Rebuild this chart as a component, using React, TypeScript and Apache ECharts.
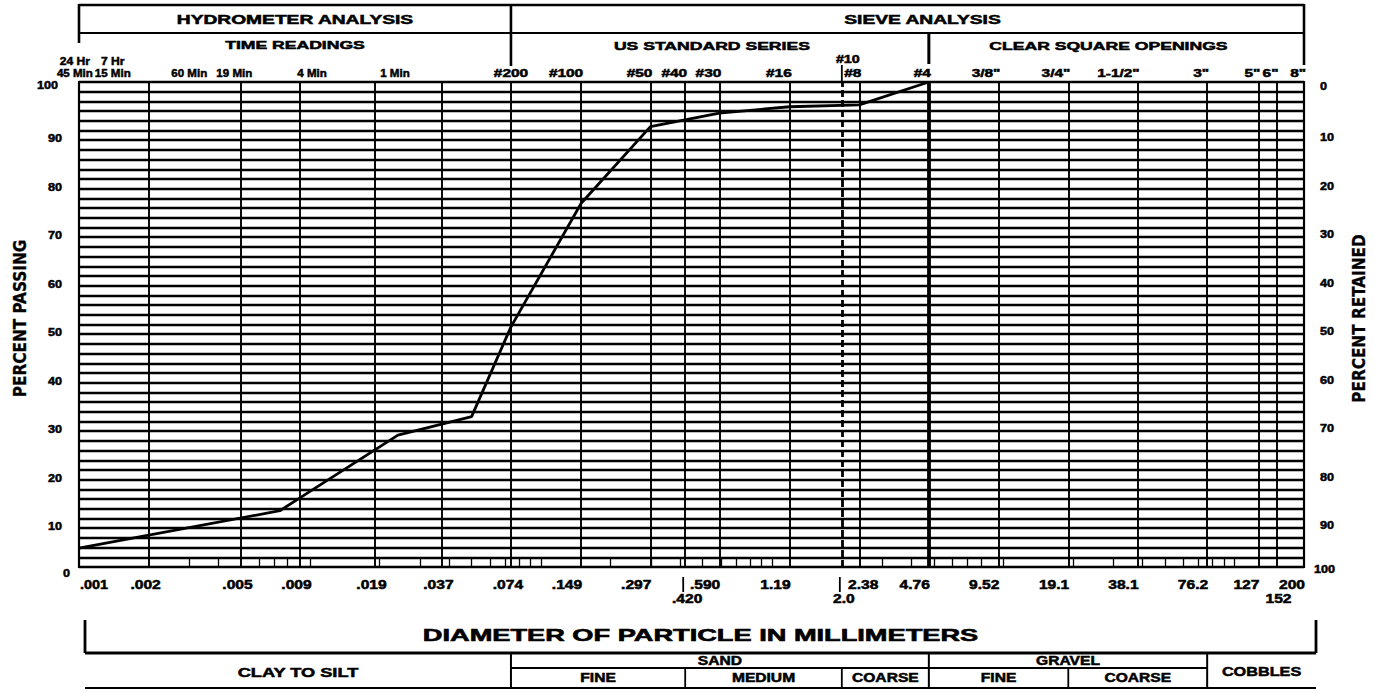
import React, { useEffect, useRef } from "react";
import * as echarts from "echarts";

// ---- gradation curve (diameter mm, percent passing) ----
const curveSizes = [0.001, 0.0074, 0.009, 0.024, 0.05, 0.074, 0.149, 0.297, 0.59, 1.19, 2.38, 4.76];
const curvePassing = [3.9, 11.6, 14.2, 27.2, 31.0, 49.5, 75.0, 90.8, 93.6, 94.9, 95.3, 100];

// ---- vertical grid lines (mm) ----
const gridSizes = [0.002, 0.005, 0.009, 0.019, 0.037, 0.074, 0.149, 0.297, 0.42, 0.59, 1.19, 2.0, 2.38, 4.76, 9.52, 19.1, 38.1, 76.2, 127, 152];
const minorTickSizes = [0.003, 0.004, 0.006, 0.007, 0.008, 0.01, 0.02, 0.03, 0.04, 0.05, 0.06, 0.07, 0.08, 0.09, 0.1, 0.2, 0.3, 0.4, 0.5, 0.6, 0.7, 0.8, 0.9, 1, 3, 4, 5, 6, 7, 8, 10, 20, 30, 40, 50, 60, 70, 80, 90, 100];

// ---- bottom tick labels (mm) ----
const mmLabelSizes = [0.001, 0.002, 0.005, 0.009, 0.019, 0.037, 0.074, 0.149, 0.297, 0.59, 1.19, 2.38, 4.76, 9.52, 19.1, 38.1, 76.2, 127, 200];
const mmLabels = [".001", ".002", ".005", ".009", ".019", ".037", ".074", ".149", ".297", ".590", "1.19", "2.38", "4.76", "9.52", "19.1", "38.1", "76.2", "127", "200"];
const mmLabel2Sizes = [0.42, 2.0, 152];
const mmLabels2 = [".420", "2.0", "152"];
const markSizes = [0.42, 2.0];

// ---- top tick labels ----
const sieveSizes = [0.074, 0.149, 0.297, 0.42, 0.59, 1.19, 2.38, 4.76, 9.52, 19.1, 38.1, 76.2, 127, 152, 200];
const sieveLabels = ["#200", "#100", "#50", "#40", "#30", "#16", "#8", "#4", '3/8"', '3/4"', '1-1/2"', '3"', '5"', '6"', '8"'];
const sieve10Size = 2.0;
const sieve10Label = "#10";
const timeSizes = [0.00096, 0.0014, 0.003, 0.0047, 0.0102, 0.0233];
const timeLabels = ["45 Min", "15 Min", "60 Min", "19 Min", "4 Min", "1 Min"];
const hourSizes = [0.00096, 0.0014];
const hourLabels = ["24 Hr", "7 Hr"];

// ---- percent ticks ----
const pctTicks = [0, 10, 20, 30, 40, 50, 60, 70, 80, 90, 100];

// ---- header / table ----
const headerDivider = 0.074;
const sieveDivider = 4.76;
const groupLabels = ["CLAY TO SILT", "SAND", "GRAVEL", "COBBLES"];
const groupBounds = [0.001, 0.074, 4.76, 76.2, 200];
const subLabels = ["FINE", "MEDIUM", "COARSE", "FINE", "COARSE"];
const subFrom = [0.074, 0.42, 2.0, 4.76, 19.1];
const subTo = [0.42, 2.0, 4.76, 19.1, 76.2];

const F = '"Liberation Sans", Arial, Helvetica, sans-serif';
const FN = '"Liberation Sans Narrow", "DejaVu Sans Condensed", "Liberation Sans", sans-serif';

export default function App() {
  const ref = useRef<HTMLDivElement>(null);
  useEffect(() => {
    const el = ref.current as HTMLDivElement;
    const chart = echarts.init(el, null, { renderer: "svg" });
    const vLine = (d: number) => {
      let lineStyle: any = { color: "#000", width: 1.9, type: "solid" };
      if (d === 4.76) lineStyle = { color: "#000", width: 3.8, type: "solid" };
      if (d === 2.0) lineStyle = { color: "#000", width: 2.8, type: [7, 3] };
      return [{ coord: [d, 0], lineStyle }, { coord: [d, 100] }];
    };
    chart.setOption({
      animation: false,
      grid: { left: 79, right: 71, top: 82, bottom: 126, show: true, borderColor: "#000", borderWidth: 2.2 },
      xAxis: {
        type: "log", logBase: 10, min: 0.001, max: 200,
        axisLabel: { show: false }, axisTick: { show: false }, axisLine: { show: false }, splitLine: { show: false },
      },
      yAxis: {
        type: "value", min: 0, max: 100, interval: 2,
        axisLabel: { show: false }, axisTick: { show: false }, axisLine: { show: false },
        splitLine: { show: true, lineStyle: { color: "#000", width: 2.4 } },
      },
      series: [
        {
          type: "line", data: [], silent: true,
          markLine: { silent: true, symbol: ["none", "none"], label: { show: false }, emphasis: { disabled: true }, data: gridSizes.map(vLine) },
        },
        {
          type: "line", data: [], silent: true,
          markLine: {
            silent: true, symbol: ["none", "none"], label: { show: false }, emphasis: { disabled: true },
            lineStyle: { color: "#000", width: 1.3, type: "solid" },
            data: minorTickSizes.map((d) => [{ coord: [d, 0] }, { coord: [d, 2] }]),
          },
        },
        {
          type: "line", data: curveSizes.map((d, i) => [d, curvePassing[i]]), showSymbol: false, symbol: "none",
          lineStyle: { color: "#000", width: 2.8 }, z: 5, silent: true,
        },
      ],
    });

    const px = (d: number) => chart.convertToPixel({ xAxisIndex: 0 }, d) as number;
    const py = (v: number) => chart.convertToPixel({ yAxisIndex: 0 }, v) as number;

    const T = (x: number, y: number, text: string, size: number, o: any = {}) => ({
      type: "text", x, y, scaleX: o.sx ?? 1, scaleY: 1, rotation: o.rot ?? 0, silent: true, z: 20,
      style: {
        text, fill: "#000", stroke: "#000", lineWidth: o.sw ?? 0.5, font: `bold ${size}px ${o.font ?? F}`,
        align: o.align ?? "center", textAlign: o.align ?? "center",
        verticalAlign: "middle", textVerticalAlign: "middle",
      },
    });
    const L = (x1: number, y1: number, x2: number, y2: number, w = 1.8, dash?: number[]) => ({
      type: "line", silent: true, z: 20, shape: { x1, y1, x2, y2 },
      style: { stroke: "#000", lineWidth: w, lineDash: dash },
    });

    const g: any[] = [];
    const xL = px(0.001), xR = px(200), xD = px(headerDivider), x4 = px(sieveDivider);

    // header box
    g.push(L(xL, 5, xR, 5, 2.4), L(xL, 33, xR, 33, 2), L(xL, 4, xL, 43, 2.6), L(xR, 4, xR, 65, 2.6), L(xD, 4, xD, 66, 2.6), L(x4, 33, x4, 64, 3));
    g.push(T((xL + xD) / 2, 20, "HYDROMETER ANALYSIS", 12, { sx: 1.6 }));
    g.push(T((xD + xR) / 2 + 15, 20, "SIEVE ANALYSIS", 12, { sx: 1.6 }));
    g.push(T((xL + xD) / 2, 45, "TIME READINGS", 11, { sx: 1.6 }));
    g.push(T((xD + x4) / 2 - 8, 46, "US STANDARD SERIES", 11, { sx: 1.6 }));
    g.push(T((x4 + xR) / 2 - 8, 46, "CLEAR SQUARE OPENINGS", 11, { sx: 1.6 }));

    hourSizes.forEach((d, i) => g.push(T(px(d), 61, hourLabels[i], 11, { sx: 1.1 })));
    timeSizes.forEach((d, i) => g.push(T(px(d), 73, timeLabels[i], 11, { sx: 1.05 })));
    sieveSizes.forEach((d, i) => {
      if (i === 0) g.push(T(px(d), 73, sieveLabels[i], 11, { sx: 1.4 }));
      else g.push(T(px(d) + 2, 73, sieveLabels[i], 11, { sx: 1.4, align: "right" }));
    });
    g.push(T(px(sieve10Size) + 6, 59, sieve10Label, 11, { sx: 1.3 }));
    g.push(L(px(sieve10Size), 65, px(sieve10Size), 82, 1.8));

    // percent labels
    pctTicks.forEach((v) => {
      let y = py(v) + 8, x = 62;
      if (v === 0) { y = py(0) + 6; x = 70; }
      if (v === 100) { y = py(100) + 3; x = 58; }
      g.push(T(x, y, String(v), 11, { align: "right", sx: 1.15 }));
    });
    pctTicks.forEach((v) => {
      let y = py(100 - v) + 7, x = 1320;
      if (v === 0) y = py(100) + 4;
      if (v === 100) { y = py(0) + 2; x = 1314; }
      g.push(T(x, y, String(v), 11, { align: "left", sx: 1.15 }));
    });
    g.push(T(20, py(50) - 6, "PERCENT PASSING", 17, { rot: Math.PI / 2, font: FN, sw: 0.3 }));
    g.push(T(1359, py(50) - 6, "PERCENT RETAINED", 17, { rot: Math.PI / 2, font: FN, sw: 0.3 }));

    // bottom labels
    mmLabelSizes.forEach((d, i) => {
      const x = px(d);
      if (i === 0) g.push(T(x + 1, 585, mmLabels[i], 12, { sx: 1.2, align: "left" }));
      else if (d <= 0.074) g.push(T(x - 3, 585, mmLabels[i], 12, { sx: 1.3 }));
      else if (d === 2.38) g.push(T(x + 4, 585, mmLabels[i], 12, { sx: 1.3 }));
      else g.push(T(x + 1, 585, mmLabels[i], 12, { sx: 1.3, align: "right" }));
    });
    mmLabel2Sizes.forEach((d, i) => g.push(T(px(d) + 2, 599, mmLabels2[i], 12, { sx: 1.3 })));
    markSizes.forEach((d) => g.push(L(px(d) - 2, 577, px(d) - 2, 592, 1.8)));

    // particle size table
    const tL = xL + 6, tR = xR + 12;
    const yB0 = 620, yTop = 653, ySub = 668, yBot = 688;
    g.push(L(tL, yB0, tL, yTop, 2.8), L(tR, yB0, tR, yTop, 2.8), L(tL, yTop, tR, yTop, 2.8), L(tL, yBot, tR, yBot, 2.2));
    g.push(T((tL + tR) / 2, 635, "DIAMETER OF PARTICLE IN MILLIMETERS", 17, { sx: 1.6, sw: 0.6 }));
    const gx = groupBounds.map((d, i) => (i === 0 ? tL : i === groupBounds.length - 1 ? tR : px(d)));
    for (let i = 1; i < gx.length - 1; i++) g.push(L(gx[i], yTop, gx[i], yBot, 2));
    g.push(L(gx[1], ySub, gx[3], ySub, 1.8));
    groupLabels.forEach((s, i) => {
      const cx = (gx[i] + gx[i + 1]) / 2;
      if (i === 1 || i === 2) g.push(T(cx, 661, s, 12, { sx: 1.3 }));
      else g.push(T(cx, 672, s, 13, { sx: i === 0 ? 1.4 : 1.25 }));
    });
    subLabels.forEach((s, i) => {
      const a = px(subFrom[i]), b = px(subTo[i]);
      if (i !== 0 && i !== 3) g.push(L(a, ySub, a, yBot, 1.8));
      g.push(T((a + b) / 2, 678, s, 12, { sx: 1.3 }));
    });

    chart.setOption({ graphic: g });
    return () => chart.dispose();
  }, []);
  return <div ref={ref} style={{ position: "absolute", left: 0, top: 0, width: 1375, height: 693, background: "#fff" }} />;
}
